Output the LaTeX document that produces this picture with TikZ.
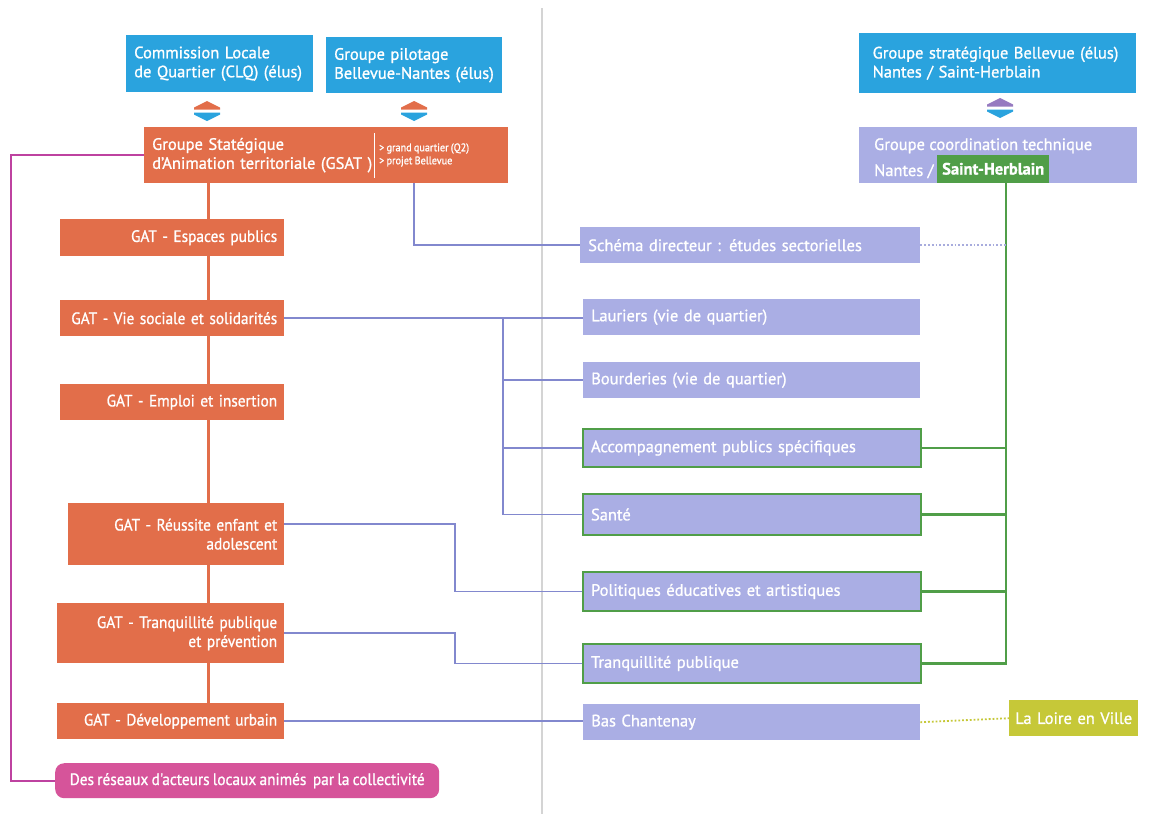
\documentclass[tikz,border=0pt]{standalone}
\usepackage{fontspec}
\setmainfont{PT Sans}[FakeBold=1.0]
\newfontfamily\narrowfont{PT Sans}[FakeStretch=0.93, WordSpace=0.8, FakeBold=1.0]
\usetikzlibrary{calc,backgrounds}

\definecolor{skyblue}{RGB}{42,163,222}
\definecolor{brick}{RGB}{226,110,74}
\definecolor{lav}{RGB}{170,174,228}
\definecolor{leaf}{RGB}{80,158,72}
\definecolor{olive}{RGB}{198,200,56}
\definecolor{rose}{RGB}{214,84,154}
\definecolor{plum}{RGB}{190,66,160}
\definecolor{wire}{RGB}{130,136,206}
\definecolor{fold}{RGB}{212,212,212}
\definecolor{mauve}{RGB}{150,122,192}

\tikzset{
  box/.style={rectangle, anchor=north west, inner xsep=8pt, inner ysep=0pt,
    text=white, font=\fontsize{16.5}{19}\selectfont},
  elus/.style={box, fill=skyblue, align=left},
  gat/.style={box, fill=brick, align=right, inner xsep=7pt,
    font=\fontsize{16.5}{19}\narrowfont},
  projet/.style={box, fill=lav, align=left},
  suivi/.style={projet, draw=leaf, line width=2pt},
  wire/.style={draw=wire, line width=1.8pt},
  greenwire/.style={draw=leaf, line width=2.2pt},
  trunk/.style={draw=brick, line width=3pt},
  reseau/.style={draw=plum, line width=2pt},
  pics/liaison/.style 2 args={code={
    \fill[#1] (-13,-1.5) -- (-13,-3.5) -- (0,-10) -- (13,-3.5) -- (13,-1.5) -- cycle;
    \fill[#2] (-13,1.5) -- (-13,3.5) -- (0,10) -- (13,3.5) -- (13,1.5) -- cycle;
  }}
}

\begin{document}
\begin{tikzpicture}[x=1pt,y=-1pt]
\useasboundingbox (0,0) rectangle (1167,814);

% decision bodies
\node[elus, text width=171pt, minimum height=57pt] (clq) at (126,35)
  {Commission Locale\\de Quartier (CLQ) (élus)};
\node[elus, text width=160pt, minimum height=56pt] (pil) at (326,37)
  {Groupe pilotage\\Bellevue-Nantes (élus)};
\node[elus, inner xsep=13.5pt, text width=250pt, minimum height=60pt] (strat) at (859,33)
  {Groupe stratégique Bellevue (élus)\\Nantes / Saint-Herblain};

\pic at (207,111) {liaison={brick}{skyblue}};
\pic at (414,111) {liaison={brick}{skyblue}};
\pic at (1000,108) {liaison={mauve}{skyblue}};

% strategic group
\node[box, fill=brick, align=left, text width=348pt, minimum height=56pt] (gsat) at (144,127)
  {Groupe Statégique\\d'Animation territoriale (GSAT )};
\draw[white, line width=1pt] (374,133) -- (374,178);
\node[anchor=west, text=white, align=left, inner sep=0pt,
  font=\fontsize{11}{13}\narrowfont] (gsatnote) at (379,155)
  {> grand quartier (Q2)\\> projet Bellevue};

% technical coordination
\node[box, fill=lav, minimum width=278pt, minimum height=56pt] (coord) at (859,127) {};
\node[anchor=base west, text=white, inner sep=0pt, font=\fontsize{16.5}{19}\selectfont]
  (coordtitle) at (874,150) {Groupe coordination technique};
\node[anchor=base west, text=white, inner sep=0pt, font=\fontsize{16.5}{19}\selectfont]
  (coordcity) at (874,176) {Nantes /};
\node[rectangle, anchor=south west, fill=leaf, text=white, inner xsep=5pt, inner ysep=0pt,
  minimum height=28pt, font=\fontsize{16.5}{19}\selectfont\bfseries] (sh) at (937,183)
  {Saint-Herblain};

% thematic groups
\node[gat, text width=210pt, minimum height=37pt] (espaces) at (60,219) {GAT - Espaces publics};
\node[gat, text width=210pt, minimum height=36pt] (vie) at (60,300) {GAT - Vie sociale et solidarités};
\node[gat, text width=210pt, minimum height=36pt] (emploi) at (60,384) {GAT - Emploi et insertion};
\node[gat, text width=202pt, minimum height=62pt] (reussite) at (68,503) {GAT - Réussite enfant et\\adolescent};
\node[gat, text width=213pt, minimum height=60pt] (tranq) at (57,603) {GAT - Tranquillité publique\\et prévention};
\node[gat, text width=213pt, minimum height=36pt] (dev) at (57,703) {GAT - Développement urbain};
\node[box, fill=rose, rounded corners=9pt, align=center, minimum width=384pt,
  minimum height=35pt, font=\fontsize{16.5}{19}\narrowfont] (reseaux) at (55,763)
  {Des réseaux d'acteurs locaux animés\ \ par la collectivité};

% projects
\node[projet, text width=324pt, minimum height=36pt] (schema) at (580,227) {Schéma directeur : études sectorielles};
\node[projet, text width=321pt, minimum height=36pt] (lauriers) at (583,299) {Lauriers (vie de quartier)};
\node[projet, text width=321pt, minimum height=36pt] (bourderies) at (583,362) {Bourderies (vie de quartier)};
\node[suivi, text width=322pt, minimum height=38pt] (accomp) at (582,428) {Accompagnement publics spécifiques};
\node[suivi, text width=322pt, minimum height=41pt] (sante) at (582,493) {Santé};
\node[suivi, text width=322pt, minimum height=39pt] (politiques) at (582,571) {Politiques éducatives et artistiques};
\node[suivi, text width=322pt, minimum height=39pt] (tranqpub) at (582,643) {Tranquillité publique};
\node[projet, text width=321pt, minimum height=36pt] (bas) at (583,704) {Bas Chantenay};
\node[box, fill=olive, align=center, inner xsep=6pt, text width=117pt, minimum height=36pt]
  (loire) at (1009,700) {La Loire en Ville};

\coordinate (tx) at (208,0);
\coordinate (mx) at (11,0);
\coordinate (bx) at (503,0);
\coordinate (gx) at (1006,0);

\begin{scope}[on background layer]
  \fill[white] (0,0) rectangle (1167,814);
  % page fold
  \draw[fold, line width=1.5pt] (542,8) -- (542,814);
  % hierarchy trunk
  \draw[trunk] (gsat.south -| tx) -- (dev.north -| tx);
  % actors' networks
  \draw[reseau] (gsat.west) -- (gsat.west -| mx) |- (reseaux.west);
  % links to projects
  \draw[wire] (pil.south |- gsat.south) |- (schema.west);
  \draw[wire] (vie.east) -- (vie.east -| lauriers.west);
  \draw[wire] (vie.east -| bx) |- (sante.west);
  \draw[wire] (bourderies.west -| bx) -- (bourderies.west);
  \draw[wire] (accomp.west -| bx) -- (accomp.west);
  \draw[wire] ($(reussite.north east)+(0,21)$) -| ($(politiques.west)+(-127,0)$) -- (politiques.west);
  \draw[wire] (tranq.east) -| ($(tranqpub.west)+(-127,0)$) -- (tranqpub.west);
  \draw[wire] (dev.east) -- (dev.east -| bas.west);
  % technical follow-up
  \draw[greenwire] (sh.south -| gx) -- (tranqpub.east -| gx) -- (tranqpub.east);
  \draw[greenwire] (accomp.east) -- (accomp.east -| gx);
  \draw[greenwire] (sante.east) -- (sante.east -| gx);
  \draw[greenwire] (politiques.east) -- (politiques.east -| gx);
  \draw[wire!70, line width=1.8pt, dotted] (schema.east) -- (schema.east -| gx);
  \draw[olive, line width=1.8pt, dotted] (bas.east) -- (loire.west);
\end{scope}
\end{tikzpicture}
\end{document}
